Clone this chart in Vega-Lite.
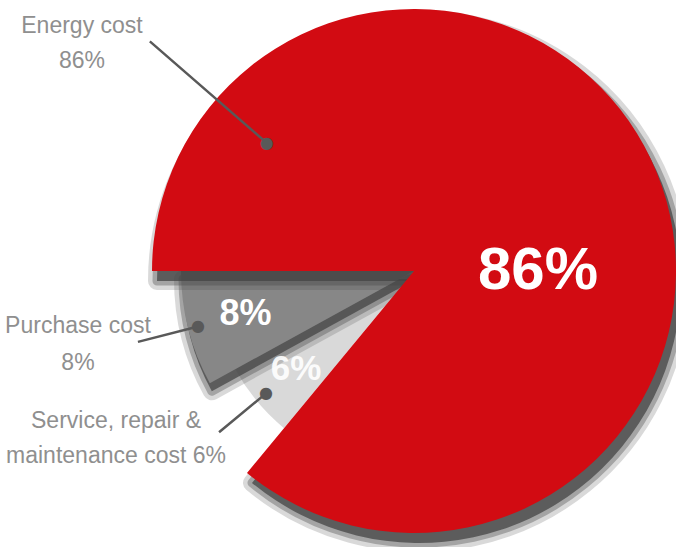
{
  "$schema": "https://vega.github.io/schema/vega-lite/v6.json",
  "width": 524,
  "height": 542,
  "autosize": {"type": "none"},
  "padding": {"left": 152, "top": 0, "right": 0, "bottom": 5},
  "background": "white",
  "view": {"stroke": null},
  "data": {
    "values": [
      {"category": "Energy cost", "value": 86, "order": 1, "pct": "86%", "label": ["Energy cost", "86%"]},
      {"category": "Service, repair & maintenance cost", "value": 6, "order": 2, "pct": "6%", "label": ["Service, repair &", "maintenance cost 6%"]},
      {"category": "Purchase cost", "value": 8, "order": 3, "pct": "8%", "label": ["Purchase cost", "8%"]}
    ]
  },
  "transform": [
    {"stack": "value", "groupby": [], "sort": [{"field": "order", "order": "ascending"}], "as": ["v0", "v1"]}
  ],
  "encoding": {
    "theta": {"field": "v0", "type": "quantitative", "scale": {"domain": [0, 100], "range": [4.712389, 10.995574]}}
  },
  "layer": [
    {
      "transform": [{"filter": "datum.category === 'Service, repair & maintenance cost'"}],
      "mark": {"type": "arc", "strokeWidth": 0},
      "encoding": {
        "theta2": {"field": "v1"},
        "radius": {"field": "value", "type": "quantitative", "scale": {"type": "linear", "domain": [0, 6, 8, 86], "range": [0, 204, 233, 262], "zero": true}},
        "color": {"field": "category", "type": "nominal", "legend": null, "scale": {"domain": ["Service, repair & maintenance cost", "Purchase cost", "Energy cost"], "range": ["#D9D9D9", "#878787", "#D20B12"]}}
      }
    },
    {
      "transform": [{"filter": "datum.category === 'Purchase cost'"}],
      "mark": {"type": "arc", "xOffset": 2, "yOffset": 8, "fill": "#444444", "stroke": "#444444", "strokeWidth": 18, "strokeJoin": "round", "opacity": 0.2},
      "encoding": {"theta2": {"field": "v1"}, "radius": {"field": "value", "type": "quantitative"}}
    },
    {
      "transform": [{"filter": "datum.category === 'Purchase cost'"}],
      "mark": {"type": "arc", "xOffset": 2, "yOffset": 8, "fill": "#444444", "stroke": "#444444", "strokeWidth": 9, "strokeJoin": "round", "opacity": 0.35},
      "encoding": {"theta2": {"field": "v1"}, "radius": {"field": "value", "type": "quantitative"}}
    },
    {
      "transform": [{"filter": "datum.category === 'Purchase cost'"}],
      "mark": {"type": "arc", "xOffset": 2, "yOffset": 8, "fill": "#444444", "strokeWidth": 0, "opacity": 0.75},
      "encoding": {"theta2": {"field": "v1"}, "radius": {"field": "value", "type": "quantitative"}}
    },
    {
      "transform": [{"filter": "datum.category === 'Purchase cost'"}],
      "mark": {"type": "arc", "strokeWidth": 0},
      "encoding": {
        "theta2": {"field": "v1"},
        "radius": {"field": "value", "type": "quantitative"},
        "color": {"field": "category", "type": "nominal", "legend": null}
      }
    },
    {
      "transform": [{"filter": "datum.category === 'Energy cost'"}],
      "mark": {"type": "arc", "xOffset": 5, "yOffset": 10, "fill": "#444444", "stroke": "#444444", "strokeWidth": 18, "strokeJoin": "round", "opacity": 0.2},
      "encoding": {"theta2": {"field": "v1"}, "radius": {"field": "value", "type": "quantitative"}}
    },
    {
      "transform": [{"filter": "datum.category === 'Energy cost'"}],
      "mark": {"type": "arc", "xOffset": 5, "yOffset": 10, "fill": "#444444", "stroke": "#444444", "strokeWidth": 9, "strokeJoin": "round", "opacity": 0.35},
      "encoding": {"theta2": {"field": "v1"}, "radius": {"field": "value", "type": "quantitative"}}
    },
    {
      "transform": [{"filter": "datum.category === 'Energy cost'"}],
      "mark": {"type": "arc", "xOffset": 5, "yOffset": 10, "fill": "#444444", "strokeWidth": 0, "opacity": 0.75},
      "encoding": {"theta2": {"field": "v1"}, "radius": {"field": "value", "type": "quantitative"}}
    },
    {
      "transform": [{"filter": "datum.category === 'Energy cost'"}],
      "mark": {"type": "arc", "strokeWidth": 0},
      "encoding": {
        "theta2": {"field": "v1"},
        "radius": {"field": "value", "type": "quantitative"},
        "color": {"field": "category", "type": "nominal", "legend": null}
      }
    },
    {
      "transform": [{"filter": "datum.category === 'Energy cost'"}],
      "mark": {"type": "text", "radius": 124, "thetaOffset": 3.1416, "fontSize": 60, "fontWeight": "bold", "font": "Liberation Sans", "fill": "white", "baseline": "middle", "align": "center"},
      "encoding": {"text": {"field": "pct", "type": "nominal"}}
    },
    {
      "transform": [{"filter": "datum.category === 'Purchase cost'"}],
      "mark": {"type": "text", "radius": 174, "thetaOffset": 0.2513, "fontSize": 36, "fontWeight": "bold", "font": "Liberation Sans", "fill": "white", "baseline": "middle", "align": "center"},
      "encoding": {"text": {"field": "pct", "type": "nominal"}}
    },
    {
      "transform": [{"filter": "datum.category === 'Service, repair & maintenance cost'"}],
      "mark": {"type": "text", "radius": 153, "thetaOffset": 0.1885, "fontSize": 35, "fontWeight": "bold", "font": "Liberation Sans", "fill": "white", "opacity": 0.9, "baseline": "middle", "align": "center"},
      "encoding": {"text": {"field": "pct", "type": "nominal"}}
    },
    {
      "transform": [{"filter": "datum.category === 'Energy cost'"}],
      "mark": {"type": "arc", "radius": 350, "radius2": 195, "thetaOffset": 0.7156, "theta2Offset": 0.7156, "fillOpacity": 0, "stroke": "#595959", "strokeWidth": 2.5},
      "encoding": {"theta2": {"field": "v0"}}
    },
    {
      "transform": [{"filter": "datum.category === 'Purchase cost'"}],
      "mark": {"type": "arc", "radius": 285, "radius2": 223, "thetaOffset": 0.2513, "theta2Offset": 0.2513, "fillOpacity": 0, "stroke": "#595959", "strokeWidth": 2.5},
      "encoding": {"theta2": {"field": "v0"}}
    },
    {
      "transform": [{"filter": "datum.category === 'Service, repair & maintenance cost'"}],
      "mark": {"type": "arc", "radius": 253, "radius2": 192, "thetaOffset": 0.1885, "theta2Offset": 0.1885, "fillOpacity": 0, "stroke": "#595959", "strokeWidth": 2.5},
      "encoding": {"theta2": {"field": "v0"}}
    },
    {
      "transform": [{"filter": "datum.category === 'Energy cost'"}],
      "mark": {"type": "text", "radius": 195, "thetaOffset": 0.7156, "fontSize": 16, "font": "DejaVu Sans", "fill": "#595959", "baseline": "middle", "align": "center", "text": "●"},
      "encoding": {}
    },
    {
      "transform": [{"filter": "datum.category === 'Purchase cost'"}],
      "mark": {"type": "text", "radius": 223, "thetaOffset": 0.2513, "fontSize": 16, "font": "DejaVu Sans", "fill": "#595959", "baseline": "middle", "align": "center", "text": "●"},
      "encoding": {}
    },
    {
      "transform": [{"filter": "datum.category === 'Service, repair & maintenance cost'"}],
      "mark": {"type": "text", "radius": 192, "thetaOffset": 0.1885, "fontSize": 16, "font": "DejaVu Sans", "fill": "#595959", "baseline": "middle", "align": "center", "text": "●"},
      "encoding": {}
    },
    {
      "transform": [{"filter": "datum.category === 'Energy cost'"}],
      "mark": {"type": "text", "radius": 408.5, "thetaOffset": 0.6219, "fontSize": 23, "lineHeight": 35, "font": "Liberation Sans", "fill": "#8F8F8F", "baseline": "alphabetic", "align": "center"},
      "encoding": {"text": {"field": "label", "type": "nominal"}}
    },
    {
      "transform": [{"filter": "datum.category === 'Purchase cost'"}],
      "mark": {"type": "text", "radius": 341.7, "thetaOffset": 0.3203, "fontSize": 23, "lineHeight": 37, "font": "Liberation Sans", "fill": "#8F8F8F", "baseline": "alphabetic", "align": "center"},
      "encoding": {"text": {"field": "label", "type": "nominal"}}
    },
    {
      "transform": [{"filter": "datum.category === 'Service, repair & maintenance cost'"}],
      "mark": {"type": "text", "radius": 336.8, "thetaOffset": 0.3948, "fontSize": 23, "lineHeight": 35, "font": "Liberation Sans", "fill": "#8F8F8F", "baseline": "alphabetic", "align": "center"},
      "encoding": {"text": {"field": "label", "type": "nominal"}}
    }
  ]
}
